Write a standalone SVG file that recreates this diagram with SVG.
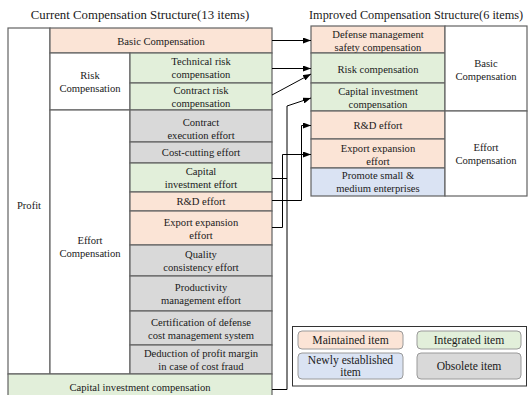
<svg xmlns="http://www.w3.org/2000/svg" width="528" height="395" viewBox="0 0 528 395" font-family="'Liberation Serif', 'Times New Roman', serif">
<style>
text{font-family:"Liberation Serif","Times New Roman",serif;font-size:10.6px;fill:#1a1a1a;text-anchor:middle;dominant-baseline:central}
.title{font-size:12.8px}
.title2{font-size:12.3px;text-anchor:start}
.cell{stroke:#626262;stroke-width:1.2}
.pe{fill:#FBE4D6}
.gr{fill:#E2EFDA}
.gy{fill:#D9D9D9}
.bl{fill:#DAE3F3}
.wh{fill:#FFFFFF}
.leg{stroke:#9a9a9a;stroke-width:1}
.lg{font-size:11.6px}
.con{fill:none;stroke:#000;stroke-width:1}
</style>
<defs>
<marker id="ah" markerWidth="8" markerHeight="6" refX="8" refY="3" orient="auto" markerUnits="userSpaceOnUse">
<path d="M0,0 L8,3 L0,6 Z" fill="#000"/>
</marker>
</defs>
<rect width="528" height="395" fill="#fff"/>
<text class="title" x="140" y="15">Current Compensation Structure(13 items)</text>
<text class="title2" x="309" y="15">Improved Compensation Structure(6 items)</text>

<g id="left-table">
<g id="profit"><rect class="cell wh" x="8" y="28" width="42" height="346"/><text x="29" y="205">Profit</text></g>
<g id="basic-comp"><rect class="cell pe" x="50" y="28" width="222" height="25"/><text x="161" y="41">Basic Compensation</text></g>
<g id="risk-comp"><rect class="cell wh" x="50" y="53" width="80" height="57"/><text x="90" y="75">Risk</text><text x="90" y="88">Compensation</text></g>
<g id="tech-risk"><rect class="cell gr" x="130" y="53" width="142" height="30"/><text x="201" y="61.5">Technical risk</text><text x="201" y="74.5">compensation</text></g>
<g id="contract-risk"><rect class="cell gr" x="130" y="83" width="142" height="27"/><text x="201" y="90">Contract risk</text><text x="201" y="103">compensation</text></g>
<g id="effort-comp"><rect class="cell wh" x="50" y="110" width="80" height="264"/><text x="90" y="240">Effort</text><text x="90" y="253">Compensation</text></g>
<g id="contract-exec"><rect class="cell gy" x="130" y="110" width="142" height="32"/><text x="201" y="122">Contract</text><text x="201" y="135">execution  effort</text></g>
<g id="cost-cutting"><rect class="cell gy" x="130" y="142" width="142" height="21"/><text x="201" y="152.5">Cost-cutting effort</text></g>
<g id="capital-effort"><rect class="cell gr" x="130" y="163" width="142" height="29"/><text x="201" y="171">Capital</text><text x="201" y="184">investment effort</text></g>
<g id="rd-effort-l"><rect class="cell pe" x="130" y="192" width="142" height="19"/><text x="201" y="201.5">R&amp;D effort</text></g>
<g id="export-l"><rect class="cell pe" x="130" y="211" width="142" height="34"/><text x="201" y="222">Export expansion</text><text x="201" y="235">effort</text></g>
<g id="quality"><rect class="cell gy" x="130" y="245" width="142" height="31"/><text x="201" y="254">Quality</text><text x="201" y="267">consistency effort</text></g>
<g id="productivity"><rect class="cell gy" x="130" y="276" width="142" height="35"/><text x="201" y="287">Productivity</text><text x="201" y="300">management  effort</text></g>
<g id="certification"><rect class="cell gy" x="130" y="311" width="142" height="34"/><text x="201" y="322">Certification of defense</text><text x="201" y="335">cost management  system</text></g>
<g id="deduction"><rect class="cell gy" x="130" y="345" width="142" height="29"/><text x="201" y="353">Deduction of profit margin</text><text x="201" y="366">in case of cost fraud</text></g>
<g id="capital-comp-l"><rect class="cell gr" x="8" y="374" width="264" height="25"/><text x="140" y="387">Capital investment compensation</text></g>
</g>

<g id="right-table">
<g id="defense"><rect class="cell pe" x="311" y="26" width="134" height="27"/><text x="378" y="34">Defense management</text><text x="378" y="47">safety compensation</text></g>
<g id="risk-r"><rect class="cell gr" x="311" y="53" width="134" height="30"/><text x="378" y="69">Risk compensation</text></g>
<g id="capital-r"><rect class="cell gr" x="311" y="83" width="134" height="28"/><text x="378" y="91">Capital investment</text><text x="378" y="104">compensation</text></g>
<g id="rd-r"><rect class="cell pe" x="311" y="111" width="134" height="28"/><text x="378" y="125">R&amp;D effort</text></g>
<g id="export-r"><rect class="cell pe" x="311" y="139" width="134" height="29"/><text x="378" y="148">Export expansion</text><text x="378" y="161">effort</text></g>
<g id="promote"><rect class="cell bl" x="311" y="168" width="134" height="28"/><text x="378" y="175.5">Promote small &amp;</text><text x="378" y="188.5">medium enterprises</text></g>
<g id="basic-r"><rect class="cell wh" x="445" y="26" width="82" height="85"/><text x="486" y="63">Basic</text><text x="486" y="76">Compensation</text></g>
<g id="effort-r"><rect class="cell wh" x="445" y="111" width="82" height="85"/><text x="486" y="147">Effort</text><text x="486" y="160">Compensation</text></g>
</g>

<g id="connectors">
<line class="con" x1="272" y1="40.5" x2="311" y2="40.5" marker-end="url(#ah)"/>
<line class="con" x1="272" y1="68.5" x2="311" y2="68.5" marker-end="url(#ah)"/>
<line class="con" x1="272" y1="95" x2="311" y2="74" marker-end="url(#ah)"/>
<polyline class="con" points="272,178.5 287,178.5"/>
<polyline class="con" points="272,389.5 287,389.5 287,106 311,98" marker-end="url(#ah)"/>
<polyline class="con" points="272,200.5 301.5,200.5 301.5,125.5 311,125.5" marker-end="url(#ah)"/>
<polyline class="con" points="272,227.5 282.5,227.5 282.5,154.5 311,154.5" marker-end="url(#ah)"/>
</g>

<g id="legend">
<rect x="292.5" y="326.5" width="234" height="59.5" fill="#fff" stroke="#333" stroke-width="1"/>
<g id="leg-maintained"><rect class="leg pe" x="298" y="331" width="105" height="18" rx="4"/><text class="lg" x="350.5" y="340">Maintained item</text></g>
<g id="leg-integrated"><rect class="leg gr" x="417" y="331" width="104" height="18" rx="4"/><text class="lg" x="469" y="340">Integrated item</text></g>
<g id="leg-new"><rect class="leg bl" x="298" y="353" width="105" height="26" rx="4"/><text class="lg" x="350.5" y="360">Newly  established</text><text class="lg" x="350.5" y="372">item</text></g>
<g id="leg-obsolete"><rect class="leg gy" x="417" y="353" width="104" height="26" rx="4"/><text class="lg" x="469" y="366">Obsolete item</text></g>
</g>
</svg>
